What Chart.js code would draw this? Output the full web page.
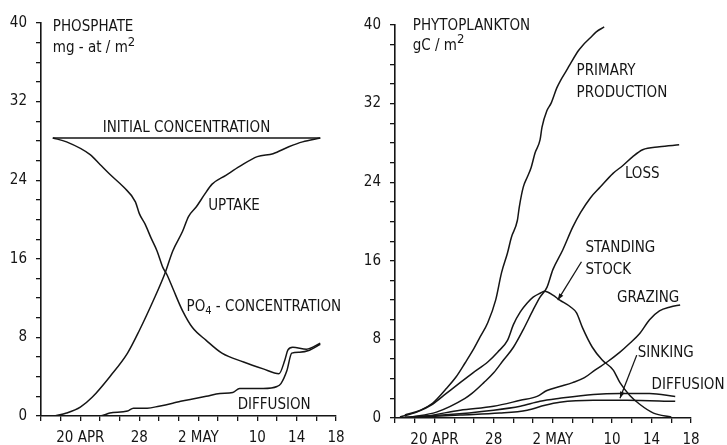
<!DOCTYPE html>
<html>
<head>
<meta charset="utf-8">
<script src="https://cdn.jsdelivr.net/npm/chart.js@4.4.0/dist/chart.umd.min.js"></script>
<style>
  html, body { margin: 0; padding: 0; background: #fff; }
  #wrap { position: relative; width: 727px; height: 445px; overflow: hidden; }
  canvas { position: absolute; top: 0; }
  #left { left: 0; }
  #right { left: 363px; }
</style>
</head>
<body>
<div id="wrap">
  <canvas id="left" width="363" height="445"></canvas>
  <canvas id="right" width="364" height="445"></canvas>
</div>
<script>
// ---------- tick labels (x in tick units, 16 ticks 0..15) ----------
const xTickPos    = [2, 5, 8, 11, 13, 15];
const xTickLabels = ['20 APR', '28', '2 MAY', '10', '14', '18'];
const yTickLabels = [0, 8, 16, 24, 32, 40];

// ---------- LEFT: PHOSPHATE (mg-at/m2) ----------
const initialX = [0.6, 14.2];
const initialY = [28.3, 28.3];

const uptakeX = [0.7, 1.3, 2.0, 2.6, 3.5, 4.4, 5.0, 5.7, 6.3, 6.7, 7.2, 7.5, 7.9, 8.3, 8.7, 9.4, 10.1, 11.0, 11.8, 12.6, 13.3, 14.2];
const uptakeY = [0.0, 0.3, 0.9, 1.9, 4.0, 6.4, 8.7, 11.7, 14.5, 16.8, 18.8, 20.3, 21.3, 22.5, 23.6, 24.5, 25.4, 26.4, 26.7, 27.4, 27.9, 28.3];

const po4X = [0.6, 1.3, 2.5, 3.0, 3.5, 4.2, 4.8, 5.0, 5.3, 5.6, 5.9, 6.2, 6.4, 6.7, 7.2, 7.7, 8.4, 9.2, 10.3, 11.3, 12.1, 12.4, 12.55, 12.8, 13.5, 14.2];
const po4Y = [28.3, 27.9, 26.6, 25.6, 24.6, 23.3, 21.8, 20.6, 19.5, 18.1, 16.8, 15.1, 14.4, 13.0, 10.7, 9.0, 7.7, 6.4, 5.5, 4.8, 4.3, 5.7, 6.7, 7.0, 6.8, 7.4];

const diffLX = [0.7, 3.0, 3.5, 4.4, 4.7, 5.4, 6.0, 6.7, 7.1, 7.9, 8.4, 9.1, 9.75, 10.1, 11.3, 12.0, 12.2, 12.5, 12.75, 13.15, 13.65, 14.2];
const diffLY = [0.0, 0.0, 0.3, 0.5, 0.8, 0.8, 1.0, 1.3, 1.5, 1.8, 2.0, 2.3, 2.4, 2.8, 2.8, 3.0, 3.3, 4.6, 6.4, 6.5, 6.7, 7.3];

// ---------- RIGHT: PHYTOPLANKTON (gC/m2) ----------
const ppX = [0.5, 1.3, 1.9, 2.6, 3.1, 3.55, 3.95, 4.3, 4.7, 5.1, 5.4, 5.7, 5.9, 6.2, 6.3, 6.5, 6.7, 6.9, 7.1, 7.35, 7.45, 7.7, 7.9, 8.2, 8.4, 8.7, 8.9, 9.3, 9.5, 9.9, 10.2, 10.6];
const ppY = [0.3, 0.8, 1.5, 3.0, 4.2, 5.6, 6.9, 8.2, 9.7, 12.0, 14.8, 16.8, 18.4, 20.1, 21.5, 23.5, 24.5, 25.5, 27.0, 28.3, 29.6, 31.3, 32.0, 33.6, 34.4, 35.4, 36.1, 37.4, 37.9, 38.7, 39.3, 39.8];

const lossX = [0.8, 2.1, 3.55, 3.9, 4.5, 5.0, 5.5, 6.0, 6.5, 7.0, 7.35, 7.7, 8.0, 8.5, 9.0, 9.4, 9.9, 10.4, 11.05, 11.55, 12.05, 12.55, 13.4, 14.4];
const lossY = [0.1, 0.6, 2.0, 2.5, 3.6, 4.6, 5.9, 7.2, 9.0, 11.0, 12.3, 13.3, 15.1, 17.1, 19.4, 20.9, 22.4, 23.5, 24.9, 25.7, 26.6, 27.3, 27.6, 27.8];

const stockX = [0.25, 1.1, 1.9, 2.6, 3.3, 3.95, 4.7, 5.2, 5.7, 6.0, 6.35, 6.7, 7.0, 7.35, 7.6, 8.0, 8.35, 8.9, 9.2, 9.5, 10.0, 10.5, 11.05, 11.4, 11.9, 12.4, 13.1, 14.0];
const stockY = [0.1, 0.6, 1.4, 2.5, 3.6, 4.6, 5.7, 6.7, 7.9, 9.5, 10.8, 11.7, 12.3, 12.7, 12.9, 12.5, 12.0, 11.3, 10.7, 9.2, 7.2, 5.9, 4.9, 3.6, 2.3, 1.4, 0.5, 0.1];

const grazX = [0.25, 1.6, 3.3, 5.0, 6.35, 7.2, 7.7, 8.35, 9.0, 9.6, 10.15, 10.75, 11.4, 11.9, 12.4, 12.9, 13.4, 13.95, 14.45];
const grazY = [0.0, 0.2, 0.8, 1.2, 1.8, 2.2, 2.8, 3.2, 3.6, 4.1, 4.9, 5.7, 6.7, 7.6, 8.6, 10.0, 10.9, 11.3, 11.5];

const sinkX = [0.5, 2.4, 5.0, 6.35, 7.35, 8.35, 10.05, 11.4, 12.9, 14.2];
const sinkY = [0.1, 0.3, 0.8, 1.2, 1.7, 2.0, 2.4, 2.5, 2.5, 2.2];

const diffRX = [1.3, 3.3, 5.3, 6.7, 7.6, 8.35, 10.05, 11.75, 14.2];
const diffRY = [0.1, 0.3, 0.5, 0.8, 1.3, 1.6, 1.8, 1.8, 1.7];

// ---------- helpers ----------
const INK = '#151515';
const FONT = '"DejaVu Sans Condensed", "Liberation Sans Narrow", "DejaVu Sans", sans-serif';
const FS = 15;      // annotation font size
const TFS = 15;     // tick font size

function pts(xs, ys) { return xs.map((x, i) => ({ x: x, y: ys[i] })); }
function line(xs, ys, straight) {
  return {
    data: pts(xs, ys), borderColor: INK, borderWidth: 1.5, pointRadius: 0,
    fill: false, tension: 0, cubicInterpolationMode: straight ? 'default' : 'monotone'
  };
}

function scales(yWidth, xHeight) {
  const xLabelOf = v => { const i = xTickPos.indexOf(v); return i >= 0 ? xTickLabels[i] : ''; };
  return {
    x: {
      type: 'linear', min: 0, max: 15,
      afterBuildTicks: s => { s.ticks = Array.from({ length: 16 }, (_, i) => ({ value: i })); },
      afterFit: s => { s.height = xHeight; },
      ticks: { autoSkip: false, maxRotation: 0, color: INK, padding: 8,
               font: { family: FONT, size: TFS }, callback: v => xLabelOf(v) },
      grid: { drawOnChartArea: false, drawTicks: true, tickLength: 5, color: INK, lineWidth: 1.3 },
      border: { color: INK, width: 1.6 }
    },
    y: {
      type: 'linear', min: 0, max: 40,
      afterBuildTicks: s => { s.ticks = Array.from({ length: 21 }, (_, i) => ({ value: i * 2 })); },
      afterFit: s => { s.width = yWidth; },
      ticks: { autoSkip: false, color: INK, padding: 9,
               font: { family: FONT, size: TFS }, callback: v => yTickLabels.includes(v) ? String(v) : '' },
      grid: { drawOnChartArea: false, drawTicks: true, tickLength: 5, color: INK, lineWidth: 1.3 },
      border: { color: INK, width: 1.6 }
    }
  };
}

function notesPlugin(notes, leaders) {
  return {
    id: 'notes',
    afterDatasetsDraw(chart) {
      const { ctx, scales: { x, y } } = chart;
      ctx.save();
      ctx.fillStyle = INK;
      ctx.strokeStyle = INK;
      ctx.textBaseline = 'middle';
      notes.forEach(n => {
        const px = x.getPixelForValue(n.x), py = y.getPixelForValue(n.y);
        ctx.font = FS + 'px ' + FONT;
        ctx.textAlign = n.align || 'left';
        if (!n.parts) { ctx.fillText(n.t, px, py); return; }
        let cx = px;
        if (n.align === 'center') {
          let w = 0;
          n.parts.forEach(p => { ctx.font = (p[2] || FS) + 'px ' + FONT; w += ctx.measureText(p[0]).width; });
          cx = px - w / 2;
        }
        ctx.textAlign = 'left';
        n.parts.forEach(p => {
          ctx.font = (p[2] || FS) + 'px ' + FONT;
          ctx.fillText(p[0], cx, py + (p[1] || 0));
          cx += ctx.measureText(p[0]).width;
        });
      });
      ctx.lineWidth = 1.3;
      (leaders || []).forEach(l => {
        const x1 = x.getPixelForValue(l.x1), y1 = y.getPixelForValue(l.y1);
        const x2 = x.getPixelForValue(l.x2), y2 = y.getPixelForValue(l.y2);
        ctx.beginPath(); ctx.moveTo(x1, y1); ctx.lineTo(x2, y2); ctx.stroke();
        const a = Math.atan2(y2 - y1, x2 - x1), L = 7, W = 0.35;
        ctx.beginPath();
        ctx.moveTo(x2, y2);
        ctx.lineTo(x2 - L * Math.cos(a - W), y2 - L * Math.sin(a - W));
        ctx.lineTo(x2 - L * Math.cos(a + W), y2 - L * Math.sin(a + W));
        ctx.closePath(); ctx.fill();
      });
      ctx.restore();
    }
  };
}

const baseOpts = (pad, yWidth, xHeight) => ({
  responsive: false, animation: false, devicePixelRatio: 1,
  layout: { padding: pad },
  plugins: { legend: { display: false }, tooltip: { enabled: false } },
  scales: scales(yWidth, xHeight)
});

new Chart(document.getElementById('left'), {
  type: 'line',
  data: { datasets: [
    line(initialX, initialY, true),
    line(uptakeX, uptakeY),
    line(po4X, po4Y),
    line(diffLX, diffLY)
  ] },
  options: baseOpts({ left: 0, top: 23, right: 27, bottom: 0 }, 41, 29),
  plugins: [notesPlugin([
    { t: 'PHOSPHATE', x: 0.6, y: 39.6 },
    { parts: [['mg - at / m', 0], ['2', -6, 13]], x: 0.6, y: 37.4 },
    { t: 'INITIAL CONCENTRATION', x: 7.4, y: 29.3, align: 'center' },
    { t: 'UPTAKE', x: 8.5, y: 21.4 },
    { parts: [['PO', 0], ['4', 4, 11], [' - CONCENTRATION', 0]], x: 7.4, y: 11.1 },
    { t: 'DIFFUSION', x: 10.0, y: 1.1 }
  ])]
});

new Chart(document.getElementById('right'), {
  type: 'line',
  data: { datasets: [
    line(ppX, ppY),
    line(lossX, lossY),
    line(stockX, stockY),
    line(grazX, grazY),
    line(sinkX, sinkY),
    line(diffRX, diffRY)
  ] },
  options: baseOpts({ left: 0, top: 25, right: 36, bottom: 0 }, 32, 27),
  plugins: [notesPlugin([
    { t: 'PHYTOPLANKTON', x: 0.9, y: 39.9 },
    { parts: [['gC / m', 0], ['2', -6, 13]], x: 0.9, y: 37.9 },
    { t: 'PRIMARY', x: 9.2, y: 35.3 },
    { t: 'PRODUCTION', x: 9.2, y: 33.1 },
    { t: 'LOSS', x: 11.65, y: 24.8 },
    { t: 'STANDING', x: 9.65, y: 17.3 },
    { t: 'STOCK', x: 9.65, y: 15.1 },
    { t: 'GRAZING', x: 11.25, y: 12.2 },
    { t: 'SINKING', x: 12.3, y: 6.6 },
    { t: 'DIFFUSION', x: 13.0, y: 3.3 }
  ], [
    { x1: 9.45, y1: 15.9, x2: 8.25, y2: 12.0 },
    { x1: 12.25, y1: 6.4, x2: 11.4, y2: 2.0 }
  ])]
});
</script>
</body>
</html>
